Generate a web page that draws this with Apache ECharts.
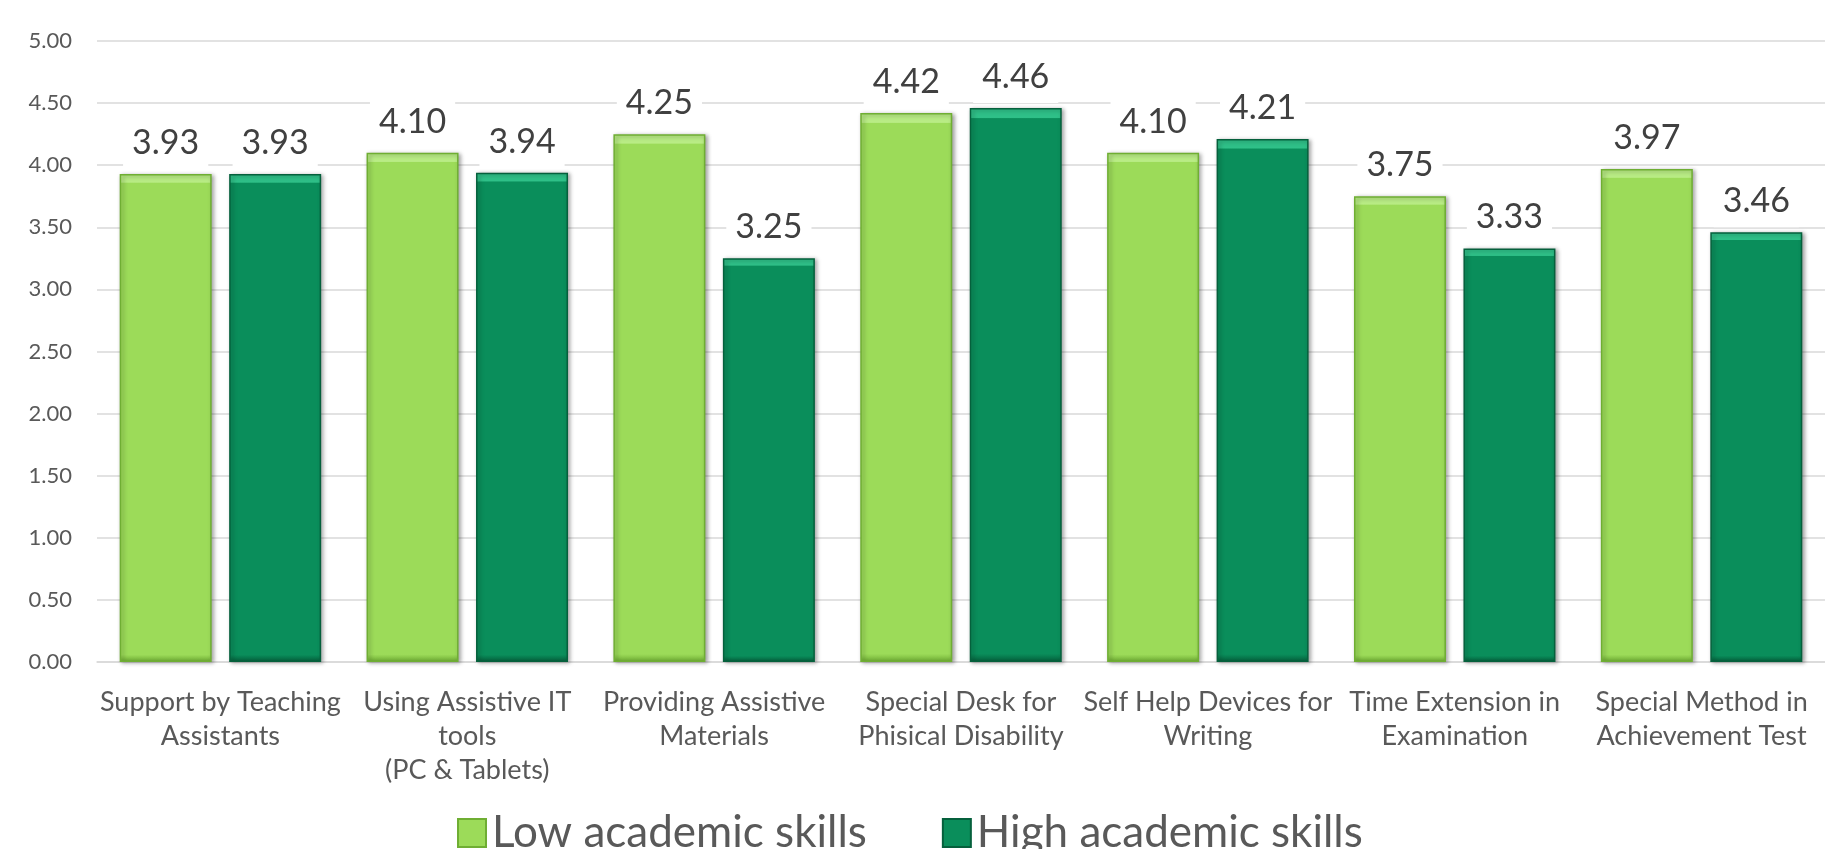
<!DOCTYPE html>
<html>
<head>
<meta charset="utf-8">
<script src="https://cdn.jsdelivr.net/npm/echarts@6/dist/echarts.min.js"></script>
<style>
html,body{margin:0;padding:0;background:#fff;}
#chart{width:1825px;height:849px;}
</style>
</head>
<body>
<div id="chart"></div>
<script>
const categories = [
  "Support by Teaching\nAssistants",
  "Using Assistive IT\ntools\n(PC & Tablets)",
  "Providing Assistive\nMaterials",
  "Special Desk for\nPhisical Disability",
  "Self Help Devices for\nWriting",
  "Time Extension in\nExamination",
  "Special Method in\nAchievement Test"
];
const lowSkills = [3.93, 4.10, 4.25, 4.42, 4.10, 3.75, 3.97];
const highSkills = [3.93, 3.94, 3.25, 4.46, 4.21, 3.33, 3.46];
const seriesNames = ["Low academic skills", "High academic skills"];

const FONT = "Lato, 'Open Sans', sans-serif";

function barStyle(top, main, border) {
  return {
    color: {
      type: 'linear', x: 0, y: 0, x2: 0, y2: 1,
      colorStops: [
        {offset: 0, color: top},
        {offset: 0.017, color: top},
        {offset: 0.019, color: main},
        {offset: 0.985, color: main},
        {offset: 1, color: border}
      ]
    },
    borderColor: border,
    borderWidth: 1.5,
    shadowColor: 'rgba(0,0,0,0.35)',
    shadowBlur: 4,
    shadowOffsetX: 2,
    shadowOffsetY: 1
  };
}

const labelCfg = {
  show: true,
  position: 'top',
  distance: 5,
  fontFamily: FONT,
  fontSize: 34,
  lineHeight: 34,
  color: '#404040',
  backgroundColor: '#ffffff',
  padding: [4, 9, 9, 9],
  formatter: p => p.value.toFixed(2)
};

const chart = echarts.init(document.getElementById('chart'));
chart.setOption({
  animation: false,
  backgroundColor: '#ffffff',
  grid: { left: 97, right: -20, top: 41, bottom: 187, containLabel: false },
  legend: {
    left: 452,
    top: 806,
    itemWidth: 28,
    itemHeight: 28,
    itemGap: 75,
    icon: 'rect',
    textStyle: { fontFamily: FONT, fontSize: 44, color: '#595959', padding: [0, 0, 0, 1] },
    data: seriesNames
  },
  xAxis: {
    type: 'category',
    data: categories,
    axisLine: { show: true, lineStyle: { color: '#d9d9d9', width: 1.5 } },
    axisTick: { show: false },
    axisLabel: {
      interval: 0,
      margin: 23,
      fontFamily: FONT,
      fontSize: 27,
      lineHeight: 34,
      color: '#595959'
    }
  },
  yAxis: {
    type: 'value',
    min: 0, max: 5, interval: 0.5,
    axisLine: { show: false },
    axisTick: { show: false },
    splitLine: { lineStyle: { color: '#d9d9d9', width: 1.5 } },
    axisLabel: {
      margin: 25,
      fontFamily: FONT,
      fontSize: 22,
      color: '#595959',
      formatter: v => v.toFixed(2)
    }
  },
  series: [
    {
      name: seriesNames[0],
      type: 'bar',
      data: lowSkills,
      barWidth: 92,
      barGap: '19%',
      itemStyle: barStyle('#b9ec85', '#9cdb59', '#6fae33'),
      label: labelCfg
    },
    {
      name: seriesNames[1],
      type: 'bar',
      data: highSkills,
      barWidth: 92,
      barGap: '19%',
      itemStyle: barStyle('#2fc088', '#0a8e5b', '#05603c'),
      label: labelCfg
    }
  ]
});
</script>
</body>
</html>
